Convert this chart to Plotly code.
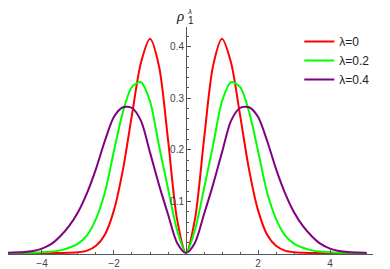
import plotly.graph_objects as go

x_vals = [-5, -4.5, -4.25, -4, -3.75, -3.5, -3.25, -3, -2.75, -2.5, -2.25, -2, -1.75, -1.5, -1.25, -1, -0.75, -0.5, -0.25,
          0, 0.25, 0.5, 0.75, 1, 1.25, 1.5, 1.75, 2, 2.25, 2.5, 2.75, 3, 3.25, 3.5, 3.75, 4, 4.25, 4.5, 5]

rho_l0 = [0, 0, 0, 0, 0, 0.0001, 0.0003, 0.0012, 0.0045, 0.014, 0.036, 0.083, 0.162, 0.268, 0.369, 0.415, 0.362, 0.220, 0.066,
          0, 0.066, 0.220, 0.362, 0.415, 0.369, 0.268, 0.162, 0.083, 0.036, 0.014, 0.0045, 0.0012, 0.0003, 0.0001, 0, 0, 0, 0, 0]

rho_l02 = [0, 0.0003, 0.0006, 0.0012, 0.0025, 0.005, 0.010, 0.018, 0.034, 0.066, 0.118, 0.198, 0.274, 0.322, 0.331, 0.294, 0.208, 0.125, 0.045,
           0, 0.045, 0.125, 0.208, 0.294, 0.331, 0.322, 0.274, 0.198, 0.118, 0.066, 0.034, 0.018, 0.010, 0.005, 0.0025, 0.0012, 0.0006, 0.0003, 0]

rho_l04 = [0.0003, 0.002, 0.004, 0.0085, 0.017, 0.032, 0.052, 0.079, 0.116, 0.163, 0.218, 0.264, 0.2825, 0.281, 0.256, 0.195, 0.132, 0.075, 0.02,
           0, 0.02, 0.075, 0.132, 0.195, 0.256, 0.281, 0.2825, 0.264, 0.218, 0.163, 0.116, 0.079, 0.052, 0.032, 0.017, 0.0085, 0.004, 0.002, 0.0003]

series_names = ["λ=0", "λ=0.2", "λ=0.4"]
series_colors = ["#ff0000", "#00ff00", "#800080"]
x_ticks = [-4, -2, 2, 4]
x_ticktext = ["−4", "−2", "2", "4"]
y_ticks = [0.1, 0.2, 0.3, 0.4]

x_range = [-4.944, 5.194]
y_range = [-0.002, 0.438]

fig = go.Figure()
for name, ys, col in zip(series_names, [rho_l0, rho_l02, rho_l04], series_colors):
    fig.add_trace(go.Scatter(x=x_vals, y=ys, mode="lines", name=name,
                             line=dict(color=col, width=2, shape="spline", smoothing=0.8)))

axis_font = dict(family="Liberation Sans, Arial, sans-serif", size=10, color="#444444")
axcol = "#555555"
fig.update_layout(
    width=382, height=261,
    margin=dict(l=0, r=17, t=19, b=15, autoexpand=False),
    paper_bgcolor="white", plot_bgcolor="white",
    showlegend=True,
    legend=dict(x=0.798, y=1.0, xanchor="left", yanchor="top", bgcolor="rgba(0,0,0,0)",
                font=dict(family="Liberation Sans, Arial, sans-serif", size=12, color="#222222")),
    xaxis=dict(range=x_range, showgrid=False, zeroline=False, showline=True, linecolor=axcol, linewidth=1,
               tickvals=x_ticks, ticktext=x_ticktext, ticks="inside", ticklen=4, tickcolor=axcol,
               tickfont=axis_font,
               minor=dict(dtick=0.5, tick0=0, ticks="inside", ticklen=2, tickcolor=axcol)),
    yaxis=dict(range=y_range, showgrid=False, zeroline=False, showline=True, linecolor=axcol, linewidth=1,
               anchor="free", position=(0 - x_range[0]) / (x_range[1] - x_range[0]),
               tickvals=y_ticks, ticks="inside", ticklen=4, tickcolor=axcol, tickfont=axis_font,
               minor=dict(dtick=0.02, tick0=0, ticks="inside", ticklen=2, tickcolor=axcol)),
)

fig.add_annotation(x=0, xref="x", y=1.0, yref="paper", yanchor="middle", xanchor="right", xshift=0, yshift=11,
                   text="<i>ρ</i>", showarrow=False,
                   font=dict(family="Liberation Serif, Times New Roman, serif", size=15, color="#222222"))
fig.add_annotation(x=0, xref="x", y=1.0, yref="paper", yanchor="middle", xanchor="left", xshift=-1, yshift=16,
                   text="<i>λ</i>", showarrow=False,
                   font=dict(family="Liberation Sans, Arial, sans-serif", size=8, color="#222222"))
fig.add_annotation(x=0, xref="x", y=1.0, yref="paper", yanchor="middle", xanchor="left", xshift=0, yshift=7,
                   text="1", showarrow=False,
                   font=dict(family="Liberation Sans, Arial, sans-serif", size=10, color="#222222"))
fig.add_annotation(x=1.0, xref="paper", y=0, yref="y", xanchor="left", yanchor="middle", xshift=8, yshift=0,
                   text="x", showarrow=False,
                   font=dict(family="Liberation Sans, Arial, sans-serif", size=15, color="#222222"))

fig.write_html("out.html")
